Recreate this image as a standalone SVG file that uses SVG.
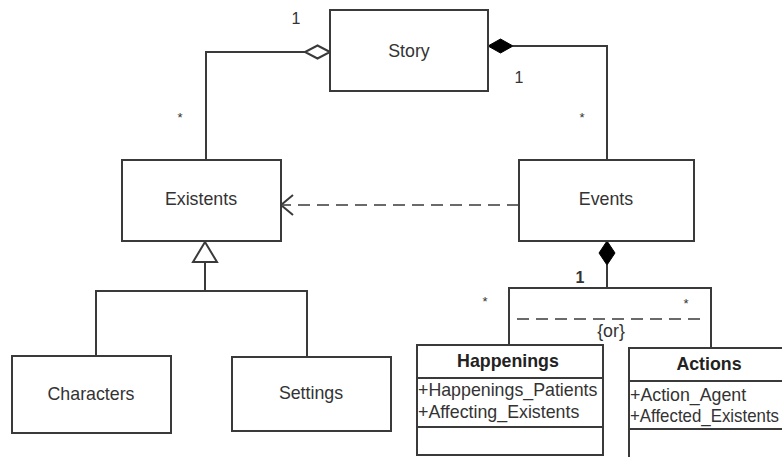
<svg xmlns="http://www.w3.org/2000/svg" width="782" height="457" viewBox="0 0 782 457">
<style>
.box{fill:#fff;stroke:#3a3a3a;stroke-width:2}
.ln{fill:none;stroke:#3a3a3a;stroke-width:2}
.dash{fill:none;stroke:#6a6a6a;stroke-width:2;stroke-dasharray:12 7}
.t{font-family:"Liberation Sans",Arial,sans-serif;font-size:17.8px;fill:#333;text-anchor:middle}
.b{font-weight:bold;fill:#222}
.a{font-family:"Liberation Sans",Arial,sans-serif;font-size:17.8px;fill:#333}
.m{font-family:"Liberation Sans",Arial,sans-serif;font-size:16px;fill:#333;text-anchor:middle}
.s{font-family:"Liberation Sans",Arial,sans-serif;font-size:13px;fill:#333;text-anchor:middle}
</style>
<rect width="782" height="457" fill="#fff"/>
<g id="connectors">
  <polyline class="ln" points="305,52 206,52 206,160"/>
  <polygon points="330,52 317.5,45.5 305,52 317.5,58.5" fill="#fff" stroke="#3a3a3a" stroke-width="2"/>
  <polyline class="ln" points="513,46 607,46 607,160"/>
  <polygon points="488,46 500.5,39 513,46 500.5,53" fill="#000" stroke="#000" stroke-width="1"/>
  <line class="dash" x1="519" y1="205" x2="283" y2="205"/>
  <polyline class="ln" points="293,195 281,205 293,215" stroke-width="1.5"/>
  <polygon points="205,242 217,262 193,262" fill="#fff" stroke="#3a3a3a" stroke-width="2"/>
  <polyline class="ln" points="205,262 205,291"/>
  <polyline class="ln" points="96,356 96,291 307,291 307,357"/>
  <polygon points="607,241 615,253 607,265 599,253" fill="#000" stroke="#000" stroke-width="1"/>
  <line class="ln" x1="607" y1="265" x2="607" y2="288"/>
  <polyline class="ln" points="509,345 509,288 711,288 711,348"/>
  <line class="dash" x1="517" y1="319" x2="707" y2="319" stroke-dasharray="12 7.2"/>
  <text class="m" x="296" y="24">1</text>
  <text class="s" x="180" y="122">*</text>
  <text class="m" x="519" y="83">1</text>
  <text class="s" x="582" y="122">*</text>
  <text class="m b" x="580" y="283">1</text>
  <text class="s" x="485" y="306">*</text>
  <text class="s" x="686" y="308">*</text>
  <text class="t" x="611" y="337">{or}</text>
</g>
<g id="story">
  <rect class="box" x="330" y="10" width="158" height="81"/>
  <text class="t" x="409" y="57">Story</text>
</g>
<g id="existents">
  <rect class="box" x="122" y="160" width="159" height="81"/>
  <text class="t" x="201" y="205">Existents</text>
</g>
<g id="events">
  <rect class="box" x="519" y="160" width="175" height="81"/>
  <text class="t" x="606" y="205">Events</text>
</g>
<g id="characters">
  <rect class="box" x="12" y="356" width="159" height="77"/>
  <text class="t" x="91" y="400">Characters</text>
</g>
<g id="settings">
  <rect class="box" x="232" y="357" width="159" height="74"/>
  <text class="t" x="311" y="399">Settings</text>
</g>
<g id="happenings">
  <rect class="box" x="417" y="345" width="186" height="110"/>
  <line class="ln" x1="417" y1="378" x2="603" y2="378"/>
  <line class="ln" x1="417" y1="427" x2="603" y2="427"/>
  <text class="t b" x="508" y="367">Happenings</text>
  <text class="a" x="418" y="396">+Happenings_Patients</text>
  <text class="a" x="418" y="418">+Affecting_Existents</text>
</g>
<g id="actions">
  <rect class="box" x="629" y="348" width="162" height="120"/>
  <line class="ln" x1="629" y1="381" x2="791" y2="381"/>
  <line class="ln" x1="629" y1="429" x2="791" y2="429"/>
  <text class="t b" x="709" y="370">Actions</text>
  <text class="a" x="630" y="401">+Action_Agent</text>
  <text class="a" x="630" y="422" textLength="149" lengthAdjust="spacingAndGlyphs">+Affected_Existents</text>
</g>
</svg>
